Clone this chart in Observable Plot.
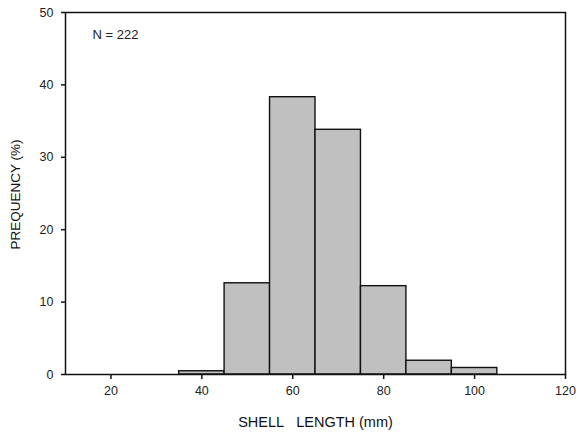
<!DOCTYPE html>
<html>
<head>
<meta charset="utf-8">
<script src="https://cdn.jsdelivr.net/npm/d3@7"></script>
<script src="https://cdn.jsdelivr.net/npm/@observablehq/plot@0.6"></script>
<style>
  html, body { margin: 0; padding: 0; background: #fff; }
</style>
</head>
<body>
<div id="chart"></div>
<script>
const binStart = [35, 45, 55, 65, 75, 85, 95];
const binEnd   = [45, 55, 65, 75, 85, 95, 105];
const frequency = [0.45, 12.6, 38.3, 33.8, 12.2, 1.9, 0.9];
const xTicks = [20, 40, 60, 80, 100, 120];
const yTicks = [0, 10, 20, 30, 40, 50];

const bins = binStart.map((s, i) => ({x1: s, x2: binEnd[i], y: frequency[i]}));

const plot = Plot.plot({
  width: 576,
  height: 436,
  marginLeft: 65,
  marginRight: 11,
  marginTop: 12,
  marginBottom: 62,
  style: {fontFamily: "'Liberation Sans', Arial, sans-serif", fontSize: "12.5px", color: "#222", background: "#fff"},
  x: {domain: [10, 120], ticks: xTicks},
  y: {domain: [0, 50], ticks: yTicks},
  marks: [
    Plot.rectY(bins, {x1: "x1", x2: "x2", y: "y", fill: "#c0c0c0", stroke: "#111", strokeWidth: 1.4}),
    Plot.frame({stroke: "#111", strokeWidth: 1.5}),
    Plot.axisX({ticks: xTicks, tickSize: 5, tickPadding: 7, label: null, fontSize: 12.5, stroke: "#111", strokeWidth: 1.5}),
    Plot.axisY({ticks: yTicks, tickSize: 4, tickPadding: 8, label: null, fontSize: 12.5, stroke: "#111", strokeWidth: 1.5}),
    Plot.text(["N = 222"], {frameAnchor: "top-left", dx: 27, dy: 17, fontSize: 13, textAnchor: "start", fill: "#222"}),
    Plot.text(["SHELL\u00a0\u00a0\u00a0LENGTH (mm)"], {frameAnchor: "bottom", dy: 52, fontSize: 14.5, fill: "#111"}),
    Plot.text(["PREQUENCY (%)"], {frameAnchor: "left", dx: -50, dy: 1, rotate: -90, textAnchor: "middle", fontSize: 13.5, fill: "#111"})
  ]
});
document.getElementById("chart").appendChild(plot);
</script>
</body>
</html>
